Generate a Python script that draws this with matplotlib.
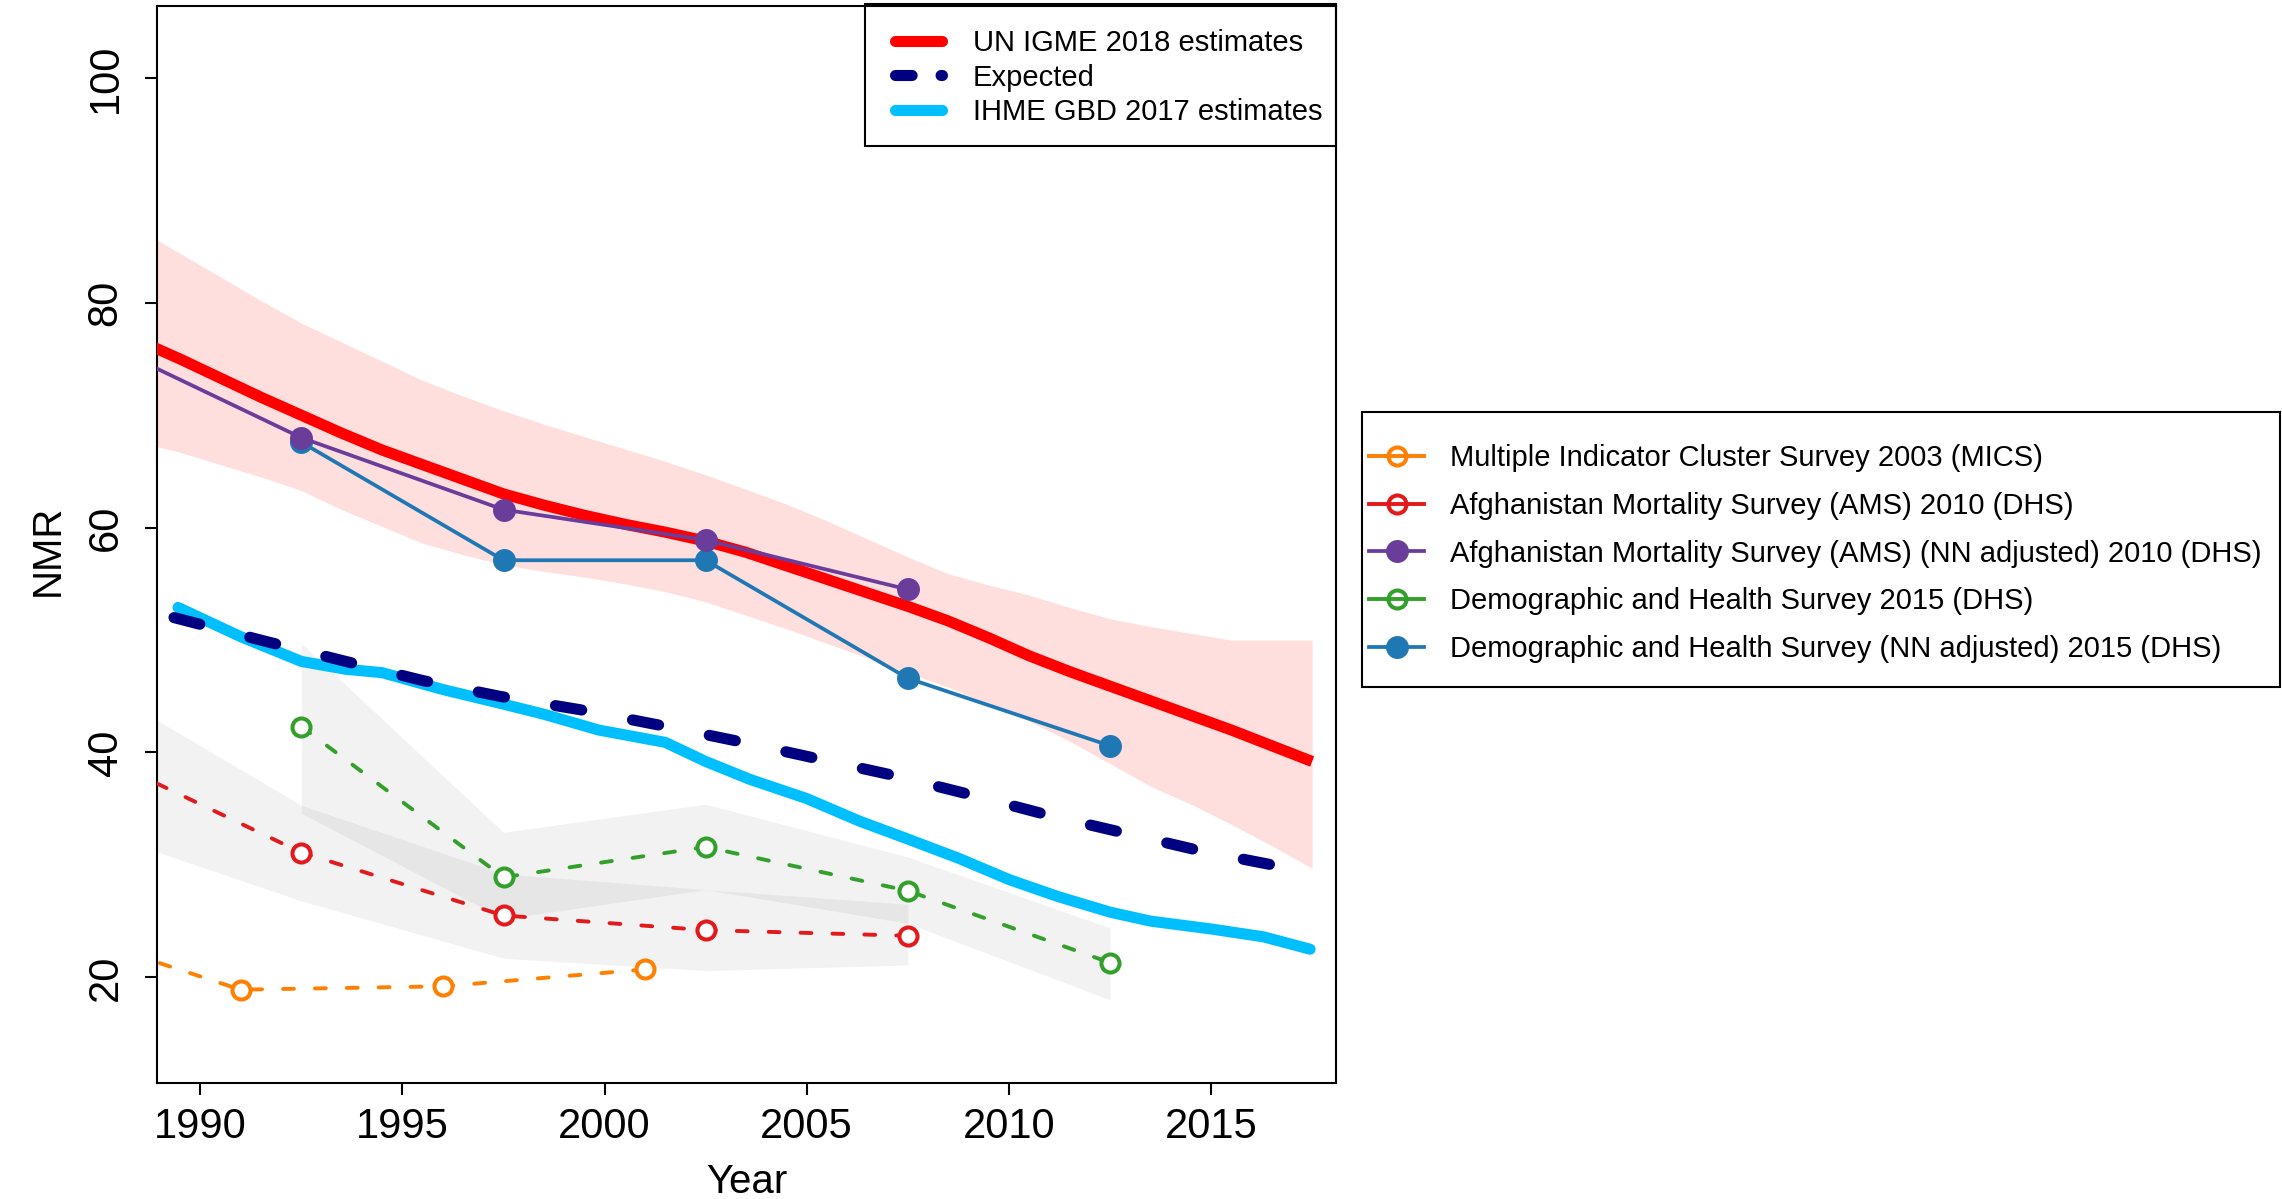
import matplotlib
matplotlib.use("Agg")
import matplotlib.pyplot as plt
from matplotlib.lines import Line2D
from matplotlib.patches import Rectangle

plt.rcParams["font.family"] = ["Liberation Sans", "DejaVu Sans"]

# UN IGME 2018 estimates with uncertainty band
igme_years = [1988.5, 1989.5, 1990.5, 1991.5, 1992.5, 1993.5, 1994.5, 1995.5, 1996.5, 1997.5,
              1998.5, 1999.5, 2000.5, 2001.5, 2002.5, 2003.5, 2004.5, 2005.5, 2006.5, 2007.5,
              2008.5, 2009.5, 2010.5, 2011.5, 2012.5, 2013.5, 2014.5, 2015.5, 2016.5, 2017.5]
igme_nmr = [76.6, 75.0, 73.3, 71.6, 70.0, 68.4, 66.9, 65.6, 64.3, 63.0,
            62.0, 61.1, 60.3, 59.6, 58.8, 57.8, 56.6, 55.4, 54.2, 53.0,
            51.7, 50.2, 48.6, 47.2, 45.9, 44.6, 43.3, 42.0, 40.6, 39.2]
igme_upper = [86.5, 84.4, 82.3, 80.2, 78.2, 76.5, 74.8, 73.1, 71.7, 70.4,
              69.2, 68.1, 67.0, 65.9, 64.7, 63.4, 62.1, 60.6, 59.0, 57.4,
              55.9, 54.9, 54.0, 52.9, 51.9, 51.2, 50.6, 50.0, 50.0, 50.0]
igme_lower = [67.6, 66.7, 65.6, 64.5, 63.3, 61.6, 60.1, 58.6, 57.6, 56.7,
              56.1, 55.6, 55.0, 54.3, 53.4, 52.2, 51.0, 49.7, 48.4, 47.1,
              45.8, 44.3, 42.8, 41.0, 39.0, 37.0, 35.4, 33.6, 31.7, 29.7]

# Expected
exp_years = [1989.35, 1991.6, 1993.6, 1995.5, 1997.4, 1999.4, 2001.4, 2003.3,
             2005.2, 2007.1, 2009.1, 2011.0, 2012.9, 2014.8, 2016.8, 2017.45]
exp_nmr = [52.0, 49.9, 48.1, 46.4, 45.0, 43.8, 42.4, 41.0,
           39.5, 38.0, 36.2, 34.4, 32.8, 31.2, 29.8, 29.3]

# IHME GBD 2017 estimates
ihme_years = [1989.45, 1991.0, 1992.5, 1993.6, 1994.5, 1996.0, 1997.5, 1998.5, 1999.85, 2000.6,
              2001.5, 2002.5, 2003.6, 2005.0, 2006.3, 2007.5, 2008.75, 2010.0, 2011.2, 2012.5,
              2013.5, 2015.0, 2016.3, 2017.45]
ihme_nmr = [52.9, 50.3, 48.1, 47.4, 47.1, 45.6, 44.3, 43.4, 42.0, 41.5,
            40.9, 39.2, 37.6, 35.9, 33.9, 32.3, 30.6, 28.7, 27.2, 25.8,
            25.0, 24.3, 23.6, 22.5]

# Surveys
mics_years = [1986.0, 1991.0, 1996.0, 2001.0]
mics_nmr = [24.8, 18.9, 19.2, 20.7]

ams_years = [1987.5, 1992.5, 1997.5, 2002.5, 2007.5]
ams_nmr = [39.7, 31.1, 25.5, 24.2, 23.7]
ams_upper = [45.9, 35.3, 29.2, 27.8, 26.5]
ams_lower = [32.9, 26.8, 21.7, 20.6, 21.1]

ams_nn_years = [1987.5, 1992.5, 1997.5, 2002.5, 2007.5]
ams_nn_nmr = [76.6, 68.0, 61.6, 58.9, 54.5]

dhs_years = [1992.5, 1997.5, 2002.5, 2007.5, 2012.5]
dhs_nmr = [42.3, 28.9, 31.6, 27.7, 21.3]
dhs_upper = [49.7, 32.9, 35.4, 30.7, 24.4]
dhs_lower = [34.6, 25.2, 27.8, 24.8, 18.0]

dhs_nn_years = [1992.5, 1997.5, 2002.5, 2007.5, 2012.5]
dhs_nn_nmr = [67.6, 57.1, 57.1, 46.6, 40.6]

x_ticks = [1990, 1995, 2000, 2005, 2010, 2015]
y_ticks = [20, 40, 60, 80, 100]

W, H = 2282, 1199
fig = plt.figure(figsize=(W / 100, H / 100), dpi=100)
ax = fig.add_axes([157 / W, 1 - 1083 / H, (1336 - 157) / W, (1083 - 6) / H])

# bands
ax.fill_between(igme_years, igme_lower, igme_upper, color="red", alpha=0.13, lw=0, zorder=1)
ax.fill_between(ams_years, ams_lower, ams_upper, color="grey", alpha=0.1, lw=0, zorder=1)
ax.fill_between(dhs_years, dhs_lower, dhs_upper, color="grey", alpha=0.1, lw=0, zorder=1)

# estimate lines
ax.plot(igme_years, igme_nmr, color="red", lw=8, solid_capstyle="butt", zorder=3)
ax.plot(ihme_years, ihme_nmr, color="deepskyblue", lw=8, solid_capstyle="round", zorder=3)
ax.plot(exp_years, exp_nmr, color="navy", lw=8, linestyle=(0, (2.4, 4.65)),
        dash_capstyle="round", zorder=4)

# surveys
open_ms, filled_ms = 13, 15.5
open_kw = dict(lw=2.8, linestyle=(0, (2.8, 5.4)), dash_capstyle="round", marker="o",
               markersize=open_ms, markeredgewidth=2.9, markerfacecolor="white", zorder=5)
filled_kw = dict(lw=2.7, marker="o", markersize=filled_ms, markeredgewidth=1, zorder=5)

ax.plot(mics_years, mics_nmr, color="#FF7F00", **open_kw)
ax.plot(ams_years, ams_nmr, color="#E31A1C", **open_kw)
ax.plot(dhs_years, dhs_nmr, color="#33A02C", **open_kw)
ax.plot(dhs_nn_years, dhs_nn_nmr, color="#1F78B4", **filled_kw)
ax.plot(ams_nn_years, ams_nn_nmr, color="#6A3D9A", **{**filled_kw, "zorder": 6})

ax.set_xlim(1988.93, 2018.09)
ax.set_ylim(10.6, 106.4)
ax.set_xticks(x_ticks)
ax.set_xticklabels([str(t) for t in x_ticks])
ax.set_yticks(y_ticks)
ax.set_yticklabels([str(t) for t in y_ticks], rotation=90, va="center")
ax.tick_params(axis="x", length=8.6, width=1.5, labelsize=30, pad=9)
ax.tick_params(axis="y", length=8.6, width=1.5, labelsize=30, pad=14)
for s in ax.spines.values():
    s.set_linewidth(1.5)

fig.text(747 / W, 1 - 1193 / H, "Year", fontsize=29, ha="center", va="baseline")
fig.text(48 / W, 1 - 550 / H, "NMR", fontsize=29, rotation=90, ha="center", va="center")

# top legend
top_handles = [
    Line2D([], [], color="red", lw=8, solid_capstyle="round"),
    Line2D([], [], color="navy", lw=8, linestyle=(0, (1.5, 2.6)), dash_capstyle="round"),
    Line2D([], [], color="deepskyblue", lw=8, solid_capstyle="round"),
]
top_labels = ["UN IGME 2018 estimates", "Expected", "IHME GBD 2017 estimates"]
fig.legend(top_handles, top_labels, loc="upper left", bbox_to_anchor=(895 / W, 1 - 29 / H),
           frameon=False, borderpad=0, borderaxespad=0, fontsize=21, handlelength=1.62,
           handletextpad=1.05, labelspacing=0.23)
fig.add_artist(Rectangle((865 / W, 1 - 146 / H), (1336 - 865) / W, (146 - 4) / H,
                         transform=fig.transFigure, fill=False, edgecolor="black", lw=1.5))

# survey legend
def open_handle(c):
    return Line2D([], [], color=c, lw=2.8, marker="o", markersize=open_ms,
                  markeredgewidth=2.9, markerfacecolor="none")


def filled_handle(c):
    return Line2D([], [], color=c, lw=2.7, marker="o", markersize=filled_ms, markeredgewidth=1)


sv_handles = [open_handle("#FF7F00"), open_handle("#E31A1C"), filled_handle("#6A3D9A"),
              open_handle("#33A02C"), filled_handle("#1F78B4")]
sv_labels = [
    "Multiple Indicator Cluster Survey 2003 (MICS)",
    "Afghanistan Mortality Survey (AMS) 2010 (DHS)",
    "Afghanistan Mortality Survey (AMS) (NN adjusted) 2010 (DHS)",
    "Demographic and Health Survey 2015 (DHS)",
    "Demographic and Health Survey (NN adjusted) 2015 (DHS)",
]
fig.legend(sv_handles, sv_labels, loc="upper left", bbox_to_anchor=(1369 / W, 1 - 444 / H),
           frameon=False, borderpad=0, borderaxespad=0, fontsize=21, handlelength=1.9,
           handletextpad=0.88, labelspacing=0.68, numpoints=1)
fig.add_artist(Rectangle((1362 / W, 1 - 687 / H), (2280 - 1362) / W, (687 - 412) / H,
                         transform=fig.transFigure, fill=False, edgecolor="black", lw=1.5))

fig.savefig("out.png", dpi=100)
